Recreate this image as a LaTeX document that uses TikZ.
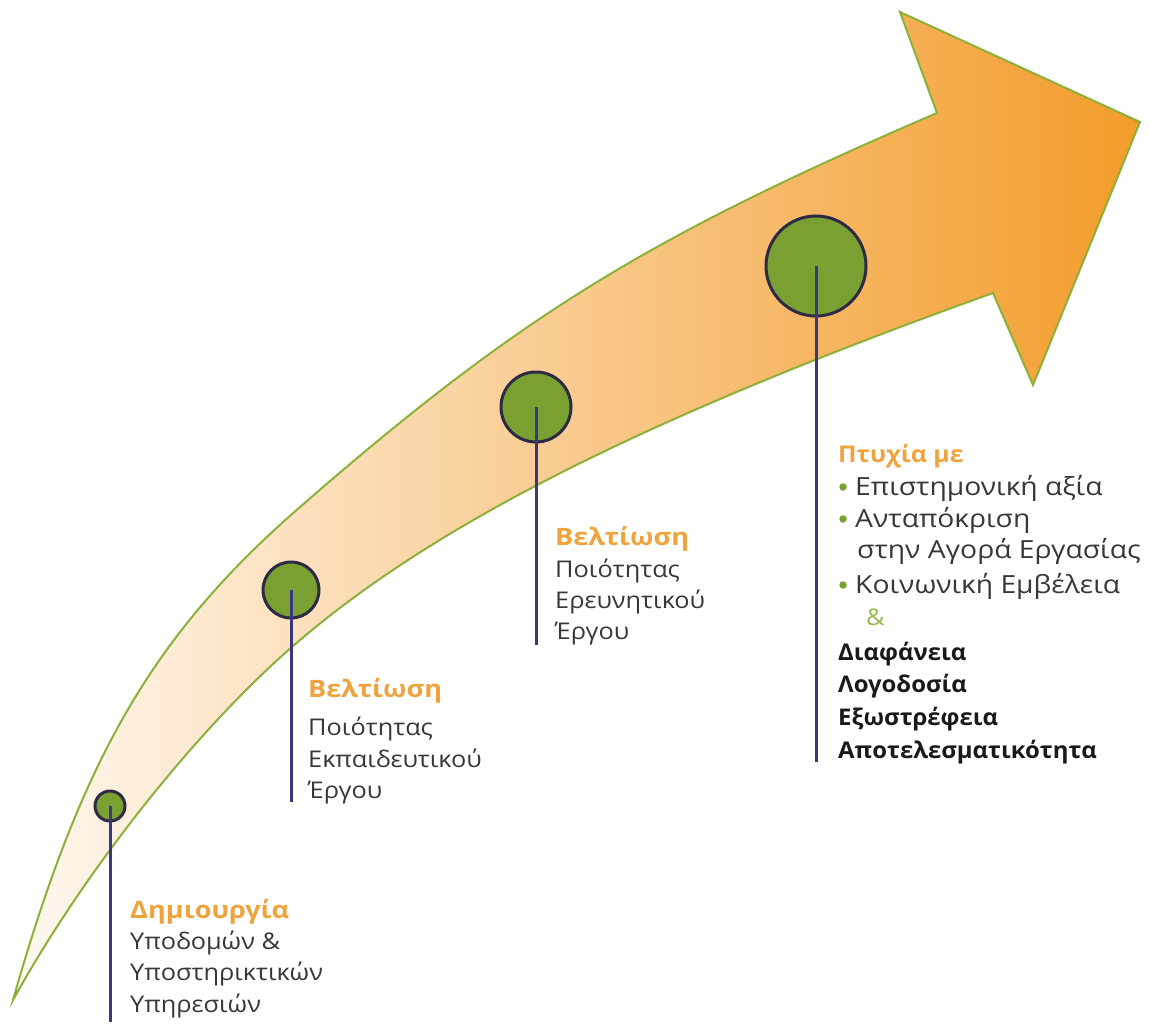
\documentclass[tikz,border=0pt]{standalone}
\usepackage{fontspec}
\setmainfont{Open Sans}
\newfontfamily\lblA[FakeStretch=1.10]{Open Sans}
\newfontfamily\lblB[FakeStretch=1.13]{Open Sans}
\newfontfamily\lblC[FakeStretch=1.08]{Open Sans}
\newfontfamily\lblD[FakeStretch=1.04]{Open Sans}
\definecolor{arrowGreen}{RGB}{140,176,58}
\definecolor{shLeft}{RGB}{255,248,240}
\definecolor{shMid}{RGB}{249,198,135}
\definecolor{shRight}{RGB}{243,156,42}
\definecolor{dotFill}{RGB}{122,160,50}
\definecolor{dotRim}{RGB}{45,42,70}
\definecolor{stemBlue}{RGB}{58,54,128}
\definecolor{ttlOrange}{RGB}{239,163,60}
\definecolor{bodyGray}{RGB}{55,55,55}
\definecolor{ampGreen}{RGB}{150,185,80}
\tikzset{
  milestone/.style={circle, fill=dotFill, draw=dotRim, line width=3pt, inner sep=0pt},
  stem/.style={draw=stemBlue, line width=3pt},
  txt/.style={anchor=base west, inner sep=0pt, text=bodyGray, font={\lblA\fontsize{23}{28}\selectfont}},
  ttl/.style={txt, text=ttlOrange, font={\lblB\bfseries\fontsize{24}{28}\selectfont}},
  txtbig/.style={txt, font={\lblB\fontsize{25}{28}\selectfont}},
  ttlbig/.style={txt, text=ttlOrange, font={\lblC\bfseries\fontsize{23}{28}\selectfont}},
  boldtxt/.style={txt, text=black!90, font={\lblD\bfseries\fontsize{23}{28}\selectfont}},
  bullet/.style={circle, fill=dotFill, inner sep=0pt, minimum size=7.5pt}
}
\begin{document}
\begin{tikzpicture}[x=1pt,y=-1pt]
\useasboundingbox (0,0) rectangle (1149,1029);
% curved arrow
\path[draw=arrowGreen, line width=2pt, left color=shLeft, middle color=shMid, right color=shRight]
  (13,1000) .. controls (82,757) and (154,634) .. (300,507)
  .. controls (518,317) and (646,238) .. (937,113)
  -- (900,12) -- (1140,122) -- (1033,385) -- (993,293)
  .. controls (647,417) and (439,522) .. (300,640)
  .. controls (201,724) and (86,868) .. (13,1000)
  -- cycle;
% milestones
\node[milestone, minimum size=30pt] (c1) at (110,806) {};
\node[milestone, minimum size=56pt] (c2) at (291,590) {};
\node[milestone, minimum size=70pt] (c3) at (536,407) {};
\node[milestone, minimum size=100pt] (c4) at (816,266) {};
\coordinate (e1) at (110,1022);
\coordinate (e2) at (291,802);
\coordinate (e3) at (536,645);
\coordinate (e4) at (816,762);
\draw[stem] (c1.center) -- (e1);
\draw[stem] (c2.center) -- (e2);
\draw[stem] (c3.center) -- (e3);
\draw[stem] (c4.center) -- (e4);
% block 1
\node[ttl] (t1) at (130,918) {Δημιουργία};
\node[txt] (t1a) at (130,949) {Υποδομών \&};
\node[txt] (t1b) at (130,980) {Υποστηρικτικών};
\node[txt] (t1c) at (130,1012) {Υπηρεσιών};
% block 2
\node[ttl] (t2) at (308,697) {Βελτίωση};
\node[txt] (t2a) at (308,735) {Ποιότητας};
\node[txt] (t2b) at (308,767) {Εκπαιδευτικού};
\node[txt] (t2c) at (308,798) {Έργου};
% block 3
\node[ttl] (t3) at (555,545) {Βελτίωση};
\node[txt] (t3a) at (555,577) {Ποιότητας};
\node[txt] (t3b) at (555,608) {Ερευνητικού};
\node[txt] (t3c) at (555,639) {Έργου};
% block 4
\node[ttlbig] (t4) at (838,462) {Πτυχία με};
\node[bullet] (b1) at (843,487) {};
\node[txtbig] (t4a) at (855,495) {Επιστημονική αξία};
\node[bullet] (b2) at (843,519) {};
\node[txtbig] (t4b) at (855,527) {Ανταπόκριση};
\node[txtbig] (t4c) at (857,558) {στην Αγορά Εργασίας};
\node[bullet] (b3) at (843,585) {};
\node[txtbig] (t4d) at (855,593) {Κοινωνική Εμβέλεια};
\node[txt, text=ampGreen] (t4e) at (866,625) {\&};
\node[boldtxt] (t4f) at (838,660) {Διαφάνεια};
\node[boldtxt] (t4g) at (838,692) {Λογοδοσία};
\node[boldtxt] (t4h) at (838,725) {Εξωστρέφεια};
\node[boldtxt] (t4i) at (838,758) {Αποτελεσματικότητα};
\end{tikzpicture}
\end{document}
